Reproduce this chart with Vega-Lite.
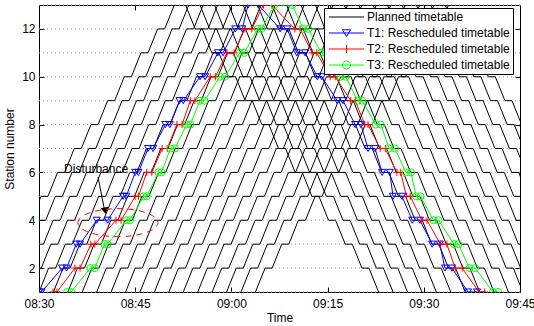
{
  "$schema": "https://vega.github.io/schema/vega-lite/v6.json",
  "width": 481,
  "height": 287,
  "autosize": "none",
  "padding": {"left": 39, "top": 5, "right": 14, "bottom": 34},
  "config": {
    "font": "Liberation Sans",
    "view": {"stroke": "black", "strokeWidth": 1},
    "axis": {"labelFont": "Liberation Sans", "labelFontSize": 12, "labelColor": "black", "titleFont": "Liberation Sans", "titleFontSize": 12, "titleFontWeight": "normal", "titleColor": "black", "domainColor": "black", "tickColor": "black", "grid": false}
  },
  "datasets": {
    "grid": [{"s":1},{"s":2},{"s":3},{"s":4},{"s":5},{"s":6},{"s":7},{"s":8},{"s":9},{"s":10},{"s":11},{"s":12},{"s":13}],
    "plan": [
      {"k":1,"x":-1.2,"y":4},{"k":1,"x":0.3,"y":5},{"k":1,"x":1.4,"y":5},{"k":1,"x":2.9,"y":6},{"k":1,"x":4.0,"y":6},{"k":1,"x":5.5,"y":7},{"k":1,"x":6.6,"y":7},{"k":1,"x":8.1,"y":8},{"k":1,"x":9.2,"y":8},{"k":1,"x":10.7,"y":9},{"k":1,"x":11.8,"y":9},{"k":1,"x":13.3,"y":10},{"k":1,"x":14.4,"y":10},{"k":1,"x":15.9,"y":11},{"k":1,"x":17.0,"y":11},{"k":1,"x":18.5,"y":12},{"k":1,"x":19.6,"y":12},{"k":1,"x":21.1,"y":13},
      {"k":2,"x":-0.05,"y":4},{"k":2,"x":1.05,"y":4},{"k":2,"x":2.55,"y":5},{"k":2,"x":3.65,"y":5},{"k":2,"x":5.15,"y":6},{"k":2,"x":6.25,"y":6},{"k":2,"x":7.75,"y":7},{"k":2,"x":8.85,"y":7},{"k":2,"x":10.35,"y":8},{"k":2,"x":11.45,"y":8},{"k":2,"x":12.95,"y":9},{"k":2,"x":14.05,"y":9},{"k":2,"x":15.55,"y":10},{"k":2,"x":16.65,"y":10},{"k":2,"x":18.15,"y":11},{"k":2,"x":19.25,"y":11},{"k":2,"x":20.75,"y":12},{"k":2,"x":21.85,"y":12},{"k":2,"x":23.35,"y":13},
      {"k":3,"x":-0.4,"y":3},{"k":3,"x":0.7,"y":3},{"k":3,"x":2.2,"y":4},{"k":3,"x":3.3,"y":4},{"k":3,"x":4.8,"y":5},{"k":3,"x":5.9,"y":5},{"k":3,"x":7.4,"y":6},{"k":3,"x":8.5,"y":6},{"k":3,"x":10.0,"y":7},{"k":3,"x":11.1,"y":7},{"k":3,"x":12.6,"y":8},{"k":3,"x":13.7,"y":8},{"k":3,"x":15.2,"y":9},{"k":3,"x":16.3,"y":9},{"k":3,"x":17.8,"y":10},{"k":3,"x":18.9,"y":10},{"k":3,"x":20.4,"y":11},{"k":3,"x":21.5,"y":11},{"k":3,"x":23.0,"y":12},{"k":3,"x":24.1,"y":12},{"k":3,"x":25.6,"y":13},
      {"k":4,"x":-0.75,"y":2},{"k":4,"x":0.35,"y":2},{"k":4,"x":1.85,"y":3},{"k":4,"x":2.95,"y":3},{"k":4,"x":4.45,"y":4},{"k":4,"x":5.55,"y":4},{"k":4,"x":7.05,"y":5},{"k":4,"x":8.15,"y":5},{"k":4,"x":9.65,"y":6},{"k":4,"x":10.75,"y":6},{"k":4,"x":12.25,"y":7},{"k":4,"x":13.35,"y":7},{"k":4,"x":14.85,"y":8},{"k":4,"x":15.95,"y":8},{"k":4,"x":17.45,"y":9},{"k":4,"x":18.55,"y":9},{"k":4,"x":20.05,"y":10},{"k":4,"x":21.15,"y":10},{"k":4,"x":22.65,"y":11},{"k":4,"x":23.75,"y":11},{"k":4,"x":25.25,"y":12},{"k":4,"x":26.35,"y":12},{"k":4,"x":27.85,"y":13},
      {"k":5,"x":0,"y":1},{"k":5,"x":1.5,"y":2},{"k":5,"x":2.6,"y":2},{"k":5,"x":4.1,"y":3},{"k":5,"x":5.2,"y":3},{"k":5,"x":6.7,"y":4},{"k":5,"x":7.8,"y":4},{"k":5,"x":9.3,"y":5},{"k":5,"x":10.4,"y":5},{"k":5,"x":11.9,"y":6},{"k":5,"x":13.0,"y":6},{"k":5,"x":14.5,"y":7},{"k":5,"x":15.6,"y":7},{"k":5,"x":17.1,"y":8},{"k":5,"x":18.2,"y":8},{"k":5,"x":19.7,"y":9},{"k":5,"x":20.8,"y":9},{"k":5,"x":22.3,"y":10},{"k":5,"x":23.4,"y":10},{"k":5,"x":24.9,"y":11},{"k":5,"x":26.0,"y":11},{"k":5,"x":27.5,"y":12},{"k":5,"x":28.6,"y":12},{"k":5,"x":30.1,"y":13},
      {"k":6,"x":2.25,"y":1},{"k":6,"x":3.75,"y":2},{"k":6,"x":4.85,"y":2},{"k":6,"x":6.35,"y":3},{"k":6,"x":7.45,"y":3},{"k":6,"x":8.95,"y":4},{"k":6,"x":10.05,"y":4},{"k":6,"x":11.55,"y":5},{"k":6,"x":12.65,"y":5},{"k":6,"x":14.15,"y":6},{"k":6,"x":15.25,"y":6},{"k":6,"x":16.75,"y":7},{"k":6,"x":17.85,"y":7},{"k":6,"x":19.35,"y":8},{"k":6,"x":20.45,"y":8},{"k":6,"x":21.95,"y":9},{"k":6,"x":23.05,"y":9},{"k":6,"x":24.55,"y":10},{"k":6,"x":25.65,"y":10},{"k":6,"x":27.15,"y":11},{"k":6,"x":28.25,"y":11},{"k":6,"x":29.75,"y":12},{"k":6,"x":30.85,"y":12},{"k":6,"x":32.35,"y":13},
      {"k":7,"x":4.5,"y":1},{"k":7,"x":6.0,"y":2},{"k":7,"x":7.1,"y":2},{"k":7,"x":8.6,"y":3},{"k":7,"x":9.7,"y":3},{"k":7,"x":11.2,"y":4},{"k":7,"x":12.3,"y":4},{"k":7,"x":13.8,"y":5},{"k":7,"x":14.9,"y":5},{"k":7,"x":16.4,"y":6},{"k":7,"x":17.5,"y":6},{"k":7,"x":19.0,"y":7},{"k":7,"x":20.1,"y":7},{"k":7,"x":21.6,"y":8},{"k":7,"x":22.7,"y":8},{"k":7,"x":24.2,"y":9},{"k":7,"x":25.3,"y":9},{"k":7,"x":26.8,"y":10},{"k":7,"x":27.9,"y":10},{"k":7,"x":29.4,"y":11},{"k":7,"x":30.5,"y":11},{"k":7,"x":32.0,"y":12},{"k":7,"x":33.1,"y":12},{"k":7,"x":34.6,"y":13},
      {"k":8,"x":6.75,"y":1},{"k":8,"x":8.25,"y":2},{"k":8,"x":9.35,"y":2},{"k":8,"x":10.85,"y":3},{"k":8,"x":11.95,"y":3},{"k":8,"x":13.45,"y":4},{"k":8,"x":14.55,"y":4},{"k":8,"x":16.05,"y":5},{"k":8,"x":17.15,"y":5},{"k":8,"x":18.65,"y":6},{"k":8,"x":19.75,"y":6},{"k":8,"x":21.25,"y":7},{"k":8,"x":22.35,"y":7},{"k":8,"x":23.85,"y":8},{"k":8,"x":24.95,"y":8},{"k":8,"x":26.45,"y":9},{"k":8,"x":27.55,"y":9},{"k":8,"x":29.05,"y":10},{"k":8,"x":30.15,"y":10},{"k":8,"x":31.65,"y":11},{"k":8,"x":32.75,"y":11},{"k":8,"x":34.25,"y":12},{"k":8,"x":35.35,"y":12},{"k":8,"x":36.85,"y":13},
      {"k":9,"x":9,"y":1},{"k":9,"x":10.5,"y":2},{"k":9,"x":11.6,"y":2},{"k":9,"x":13.1,"y":3},{"k":9,"x":14.2,"y":3},{"k":9,"x":15.7,"y":4},{"k":9,"x":16.8,"y":4},{"k":9,"x":18.3,"y":5},{"k":9,"x":19.4,"y":5},{"k":9,"x":20.9,"y":6},{"k":9,"x":22.0,"y":6},{"k":9,"x":23.5,"y":7},{"k":9,"x":24.6,"y":7},{"k":9,"x":26.1,"y":8},{"k":9,"x":27.2,"y":8},{"k":9,"x":28.7,"y":9},{"k":9,"x":29.8,"y":9},{"k":9,"x":31.3,"y":10},{"k":9,"x":32.4,"y":10},{"k":9,"x":33.9,"y":11},{"k":9,"x":35.0,"y":11},{"k":9,"x":36.5,"y":12},{"k":9,"x":37.6,"y":12},{"k":9,"x":39.1,"y":13},
      {"k":10,"x":11.25,"y":1},{"k":10,"x":12.75,"y":2},{"k":10,"x":13.85,"y":2},{"k":10,"x":15.35,"y":3},{"k":10,"x":16.45,"y":3},{"k":10,"x":17.95,"y":4},{"k":10,"x":19.05,"y":4},{"k":10,"x":20.55,"y":5},{"k":10,"x":21.65,"y":5},{"k":10,"x":23.15,"y":6},{"k":10,"x":24.25,"y":6},{"k":10,"x":25.75,"y":7},{"k":10,"x":26.85,"y":7},{"k":10,"x":28.35,"y":8},{"k":10,"x":29.45,"y":8},{"k":10,"x":30.95,"y":9},{"k":10,"x":32.05,"y":9},{"k":10,"x":33.55,"y":10},{"k":10,"x":34.65,"y":10},{"k":10,"x":36.15,"y":11},{"k":10,"x":37.25,"y":11},{"k":10,"x":38.75,"y":12},{"k":10,"x":39.85,"y":12},{"k":10,"x":41.35,"y":13},
      {"k":11,"x":13.5,"y":1},{"k":11,"x":15.0,"y":2},{"k":11,"x":16.1,"y":2},{"k":11,"x":17.6,"y":3},{"k":11,"x":18.7,"y":3},{"k":11,"x":20.2,"y":4},{"k":11,"x":21.3,"y":4},{"k":11,"x":22.8,"y":5},{"k":11,"x":23.9,"y":5},{"k":11,"x":25.4,"y":6},{"k":11,"x":26.5,"y":6},{"k":11,"x":28.0,"y":7},{"k":11,"x":29.1,"y":7},{"k":11,"x":30.6,"y":8},{"k":11,"x":31.7,"y":8},{"k":11,"x":33.2,"y":9},{"k":11,"x":34.3,"y":9},{"k":11,"x":35.8,"y":10},{"k":11,"x":36.9,"y":10},{"k":11,"x":38.4,"y":11},{"k":11,"x":39.5,"y":11},{"k":11,"x":41.0,"y":12},{"k":11,"x":42.1,"y":12},{"k":11,"x":43.6,"y":13},
      {"k":12,"x":15.75,"y":1},{"k":12,"x":17.25,"y":2},{"k":12,"x":18.35,"y":2},{"k":12,"x":19.85,"y":3},{"k":12,"x":20.95,"y":3},{"k":12,"x":22.45,"y":4},{"k":12,"x":23.55,"y":4},{"k":12,"x":25.05,"y":5},{"k":12,"x":26.15,"y":5},{"k":12,"x":27.65,"y":6},{"k":12,"x":28.75,"y":6},{"k":12,"x":30.25,"y":7},{"k":12,"x":31.35,"y":7},{"k":12,"x":32.85,"y":8},{"k":12,"x":33.95,"y":8},{"k":12,"x":35.45,"y":9},{"k":12,"x":36.55,"y":9},{"k":12,"x":38.05,"y":10},{"k":12,"x":39.15,"y":10},{"k":12,"x":40.65,"y":11},{"k":12,"x":41.75,"y":11},{"k":12,"x":43.25,"y":12},{"k":12,"x":44.35,"y":12},{"k":12,"x":45.85,"y":13},
      {"k":13,"x":18,"y":1},{"k":13,"x":19.5,"y":2},{"k":13,"x":20.6,"y":2},{"k":13,"x":22.1,"y":3},{"k":13,"x":23.2,"y":3},{"k":13,"x":24.7,"y":4},{"k":13,"x":25.8,"y":4},{"k":13,"x":27.3,"y":5},{"k":13,"x":28.4,"y":5},{"k":13,"x":29.9,"y":6},{"k":13,"x":31.0,"y":6},{"k":13,"x":32.5,"y":7},{"k":13,"x":33.6,"y":7},{"k":13,"x":35.1,"y":8},{"k":13,"x":36.2,"y":8},{"k":13,"x":37.7,"y":9},{"k":13,"x":38.8,"y":9},{"k":13,"x":40.3,"y":10},{"k":13,"x":41.4,"y":10},{"k":13,"x":42.9,"y":11},{"k":13,"x":44.0,"y":11},{"k":13,"x":45.5,"y":12},{"k":13,"x":46.6,"y":12},{"k":13,"x":48.1,"y":13},
      {"k":14,"x":20.25,"y":1},{"k":14,"x":21.75,"y":2},{"k":14,"x":22.85,"y":2},{"k":14,"x":24.35,"y":3},{"k":14,"x":25.45,"y":3},{"k":14,"x":26.95,"y":4},{"k":14,"x":28.05,"y":4},{"k":14,"x":29.55,"y":5},{"k":14,"x":30.65,"y":5},{"k":14,"x":32.15,"y":6},{"k":14,"x":33.25,"y":6},{"k":14,"x":34.75,"y":7},{"k":14,"x":35.85,"y":7},{"k":14,"x":37.35,"y":8},{"k":14,"x":38.45,"y":8},{"k":14,"x":39.95,"y":9},{"k":14,"x":41.05,"y":9},{"k":14,"x":42.55,"y":10},{"k":14,"x":43.65,"y":10},{"k":14,"x":45.15,"y":11},{"k":14,"x":46.25,"y":11},{"k":14,"x":47.75,"y":12},{"k":14,"x":48.85,"y":12},{"k":14,"x":50.35,"y":13},
      {"k":15,"x":22.5,"y":1},{"k":15,"x":24.0,"y":2},{"k":15,"x":25.1,"y":2},{"k":15,"x":26.6,"y":3},{"k":15,"x":27.7,"y":3},{"k":15,"x":29.2,"y":4},{"k":15,"x":30.3,"y":4},{"k":15,"x":31.8,"y":5},{"k":15,"x":32.9,"y":5},{"k":15,"x":34.4,"y":6},{"k":15,"x":35.5,"y":6},{"k":15,"x":37.0,"y":7},{"k":15,"x":38.1,"y":7},{"k":15,"x":39.6,"y":8},{"k":15,"x":40.7,"y":8},{"k":15,"x":42.2,"y":9},{"k":15,"x":43.3,"y":9},{"k":15,"x":44.8,"y":10},{"k":15,"x":45.9,"y":10},{"k":15,"x":47.4,"y":11},{"k":15,"x":48.5,"y":11},{"k":15,"x":50.0,"y":12},{"k":15,"x":51.1,"y":12},{"k":15,"x":52.6,"y":13},
      {"k":16,"x":24.75,"y":1},{"k":16,"x":26.25,"y":2},{"k":16,"x":27.35,"y":2},{"k":16,"x":28.85,"y":3},{"k":16,"x":29.95,"y":3},{"k":16,"x":31.45,"y":4},{"k":16,"x":32.55,"y":4},{"k":16,"x":34.05,"y":5},{"k":16,"x":35.15,"y":5},{"k":16,"x":36.65,"y":6},{"k":16,"x":37.75,"y":6},{"k":16,"x":39.25,"y":7},{"k":16,"x":40.35,"y":7},{"k":16,"x":41.85,"y":8},{"k":16,"x":42.95,"y":8},{"k":16,"x":44.45,"y":9},{"k":16,"x":45.55,"y":9},{"k":16,"x":47.05,"y":10},{"k":16,"x":48.15,"y":10},{"k":16,"x":49.65,"y":11},{"k":16,"x":50.75,"y":11},{"k":16,"x":52.25,"y":12},{"k":16,"x":53.35,"y":12},{"k":16,"x":54.85,"y":13},
      {"k":17,"x":27,"y":1},{"k":17,"x":28.5,"y":2},{"k":17,"x":29.6,"y":2},{"k":17,"x":31.1,"y":3},{"k":17,"x":32.2,"y":3},{"k":17,"x":33.7,"y":4},{"k":17,"x":34.8,"y":4},{"k":17,"x":36.3,"y":5},{"k":17,"x":37.4,"y":5},{"k":17,"x":38.9,"y":6},{"k":17,"x":40.0,"y":6},{"k":17,"x":41.5,"y":7},{"k":17,"x":42.6,"y":7},{"k":17,"x":44.1,"y":8},{"k":17,"x":45.2,"y":8},{"k":17,"x":46.7,"y":9},{"k":17,"x":47.8,"y":9},{"k":17,"x":49.3,"y":10},{"k":17,"x":50.4,"y":10},{"k":17,"x":51.9,"y":11},{"k":17,"x":53.0,"y":11},{"k":17,"x":54.5,"y":12},{"k":17,"x":55.6,"y":12},{"k":17,"x":57.1,"y":13},
      {"k":18,"x":29.25,"y":1},{"k":18,"x":30.75,"y":2},{"k":18,"x":31.85,"y":2},{"k":18,"x":33.35,"y":3},{"k":18,"x":34.45,"y":3},{"k":18,"x":35.95,"y":4},{"k":18,"x":37.05,"y":4},{"k":18,"x":38.55,"y":5},{"k":18,"x":39.65,"y":5},{"k":18,"x":41.15,"y":6},{"k":18,"x":42.25,"y":6},{"k":18,"x":43.75,"y":7},{"k":18,"x":44.85,"y":7},{"k":18,"x":46.35,"y":8},{"k":18,"x":47.45,"y":8},{"k":18,"x":48.95,"y":9},{"k":18,"x":50.05,"y":9},{"k":18,"x":51.55,"y":10},{"k":18,"x":52.65,"y":10},{"k":18,"x":54.15,"y":11},{"k":18,"x":55.25,"y":11},{"k":18,"x":56.75,"y":12},{"k":18,"x":57.85,"y":12},{"k":18,"x":59.35,"y":13},
      {"k":19,"x":31.5,"y":1},{"k":19,"x":33.0,"y":2},{"k":19,"x":34.1,"y":2},{"k":19,"x":35.6,"y":3},{"k":19,"x":36.7,"y":3},{"k":19,"x":38.2,"y":4},{"k":19,"x":39.3,"y":4},{"k":19,"x":40.8,"y":5},{"k":19,"x":41.9,"y":5},{"k":19,"x":43.4,"y":6},{"k":19,"x":44.5,"y":6},{"k":19,"x":46.0,"y":7},{"k":19,"x":47.1,"y":7},{"k":19,"x":48.6,"y":8},{"k":19,"x":49.7,"y":8},{"k":19,"x":51.2,"y":9},{"k":19,"x":52.3,"y":9},{"k":19,"x":53.8,"y":10},{"k":19,"x":54.9,"y":10},{"k":19,"x":56.4,"y":11},{"k":19,"x":57.5,"y":11},{"k":19,"x":59.0,"y":12},{"k":19,"x":60.1,"y":12},{"k":19,"x":61.6,"y":13},
      {"k":20,"x":33.75,"y":1},{"k":20,"x":35.25,"y":2},{"k":20,"x":36.35,"y":2},{"k":20,"x":37.85,"y":3},{"k":20,"x":38.95,"y":3},{"k":20,"x":40.45,"y":4},{"k":20,"x":41.55,"y":4},{"k":20,"x":43.05,"y":5},{"k":20,"x":44.15,"y":5},{"k":20,"x":45.65,"y":6},{"k":20,"x":46.75,"y":6},{"k":20,"x":48.25,"y":7},{"k":20,"x":49.35,"y":7},{"k":20,"x":50.85,"y":8},{"k":20,"x":51.95,"y":8},{"k":20,"x":53.45,"y":9},{"k":20,"x":54.55,"y":9},{"k":20,"x":56.05,"y":10},{"k":20,"x":57.15,"y":10},{"k":20,"x":58.65,"y":11},{"k":20,"x":59.75,"y":11},{"k":20,"x":61.25,"y":12},{"k":20,"x":62.35,"y":12},{"k":20,"x":63.85,"y":13},
      {"k":21,"x":22.85,"y":13},{"k":21,"x":24.35,"y":12},{"k":21,"x":25.45,"y":12},{"k":21,"x":26.95,"y":11},{"k":21,"x":28.05,"y":11},{"k":21,"x":29.55,"y":10},{"k":21,"x":30.65,"y":10},{"k":21,"x":32.15,"y":9},{"k":21,"x":33.25,"y":9},{"k":21,"x":34.75,"y":8},{"k":21,"x":35.85,"y":8},{"k":21,"x":37.35,"y":7},{"k":21,"x":38.45,"y":7},{"k":21,"x":39.95,"y":6},{"k":21,"x":41.05,"y":6},{"k":21,"x":42.55,"y":5},{"k":21,"x":43.65,"y":5},{"k":21,"x":45.15,"y":4},{"k":21,"x":46.25,"y":4},{"k":21,"x":47.75,"y":3},{"k":21,"x":48.85,"y":3},{"k":21,"x":50.35,"y":2},{"k":21,"x":51.45,"y":2},{"k":21,"x":52.95,"y":1},
      {"k":22,"x":25.1,"y":13},{"k":22,"x":26.6,"y":12},{"k":22,"x":27.7,"y":12},{"k":22,"x":29.2,"y":11},{"k":22,"x":30.3,"y":11},{"k":22,"x":31.8,"y":10},{"k":22,"x":32.9,"y":10},{"k":22,"x":34.4,"y":9},{"k":22,"x":35.5,"y":9},{"k":22,"x":37.0,"y":8},{"k":22,"x":38.1,"y":8},{"k":22,"x":39.6,"y":7},{"k":22,"x":40.7,"y":7},{"k":22,"x":42.2,"y":6},{"k":22,"x":43.3,"y":6},{"k":22,"x":44.8,"y":5},{"k":22,"x":45.9,"y":5},{"k":22,"x":47.4,"y":4},{"k":22,"x":48.5,"y":4},{"k":22,"x":50.0,"y":3},{"k":22,"x":51.1,"y":3},{"k":22,"x":52.6,"y":2},{"k":22,"x":53.7,"y":2},{"k":22,"x":55.2,"y":1},
      {"k":23,"x":27.35,"y":13},{"k":23,"x":28.85,"y":12},{"k":23,"x":29.95,"y":12},{"k":23,"x":31.45,"y":11},{"k":23,"x":32.55,"y":11},{"k":23,"x":34.05,"y":10},{"k":23,"x":35.15,"y":10},{"k":23,"x":36.65,"y":9},{"k":23,"x":37.75,"y":9},{"k":23,"x":39.25,"y":8},{"k":23,"x":40.35,"y":8},{"k":23,"x":41.85,"y":7},{"k":23,"x":42.95,"y":7},{"k":23,"x":44.45,"y":6},{"k":23,"x":45.55,"y":6},{"k":23,"x":47.05,"y":5},{"k":23,"x":48.15,"y":5},{"k":23,"x":49.65,"y":4},{"k":23,"x":50.75,"y":4},{"k":23,"x":52.25,"y":3},{"k":23,"x":53.35,"y":3},{"k":23,"x":54.85,"y":2},{"k":23,"x":55.95,"y":2},{"k":23,"x":57.45,"y":1},
      {"k":24,"x":29.6,"y":13},{"k":24,"x":31.1,"y":12},{"k":24,"x":32.2,"y":12},{"k":24,"x":33.7,"y":11},{"k":24,"x":34.8,"y":11},{"k":24,"x":36.3,"y":10},{"k":24,"x":37.4,"y":10},{"k":24,"x":38.9,"y":9},{"k":24,"x":40.0,"y":9},{"k":24,"x":41.5,"y":8},{"k":24,"x":42.6,"y":8},{"k":24,"x":44.1,"y":7},{"k":24,"x":45.2,"y":7},{"k":24,"x":46.7,"y":6},{"k":24,"x":47.8,"y":6},{"k":24,"x":49.3,"y":5},{"k":24,"x":50.4,"y":5},{"k":24,"x":51.9,"y":4},{"k":24,"x":53.0,"y":4},{"k":24,"x":54.5,"y":3},{"k":24,"x":55.6,"y":3},{"k":24,"x":57.1,"y":2},{"k":24,"x":58.2,"y":2},{"k":24,"x":59.7,"y":1},
      {"k":25,"x":31.85,"y":13},{"k":25,"x":33.35,"y":12},{"k":25,"x":34.45,"y":12},{"k":25,"x":35.95,"y":11},{"k":25,"x":37.05,"y":11},{"k":25,"x":38.55,"y":10},{"k":25,"x":39.65,"y":10},{"k":25,"x":41.15,"y":9},{"k":25,"x":42.25,"y":9},{"k":25,"x":43.75,"y":8},{"k":25,"x":44.85,"y":8},{"k":25,"x":46.35,"y":7},{"k":25,"x":47.45,"y":7},{"k":25,"x":48.95,"y":6},{"k":25,"x":50.05,"y":6},{"k":25,"x":51.55,"y":5},{"k":25,"x":52.65,"y":5},{"k":25,"x":54.15,"y":4},{"k":25,"x":55.25,"y":4},{"k":25,"x":56.75,"y":3},{"k":25,"x":57.85,"y":3},{"k":25,"x":59.35,"y":2},{"k":25,"x":60.45,"y":2},{"k":25,"x":61.95,"y":1},
      {"k":26,"x":34.1,"y":13},{"k":26,"x":35.6,"y":12},{"k":26,"x":36.7,"y":12},{"k":26,"x":38.2,"y":11},{"k":26,"x":39.3,"y":11},{"k":26,"x":40.8,"y":10},{"k":26,"x":41.9,"y":10},{"k":26,"x":43.4,"y":9},{"k":26,"x":44.5,"y":9},{"k":26,"x":46.0,"y":8},{"k":26,"x":47.1,"y":8},{"k":26,"x":48.6,"y":7},{"k":26,"x":49.7,"y":7},{"k":26,"x":51.2,"y":6},{"k":26,"x":52.3,"y":6},{"k":26,"x":53.8,"y":5},{"k":26,"x":54.9,"y":5},{"k":26,"x":56.4,"y":4},{"k":26,"x":57.5,"y":4},{"k":26,"x":59.0,"y":3},{"k":26,"x":60.1,"y":3},{"k":26,"x":61.6,"y":2},{"k":26,"x":62.7,"y":2},{"k":26,"x":64.2,"y":1},
      {"k":27,"x":36.35,"y":13},{"k":27,"x":37.85,"y":12},{"k":27,"x":38.95,"y":12},{"k":27,"x":40.45,"y":11},{"k":27,"x":41.55,"y":11},{"k":27,"x":43.05,"y":10},{"k":27,"x":44.15,"y":10},{"k":27,"x":45.65,"y":9},{"k":27,"x":46.75,"y":9},{"k":27,"x":48.25,"y":8},{"k":27,"x":49.35,"y":8},{"k":27,"x":50.85,"y":7},{"k":27,"x":51.95,"y":7},{"k":27,"x":53.45,"y":6},{"k":27,"x":54.55,"y":6},{"k":27,"x":56.05,"y":5},{"k":27,"x":57.15,"y":5},{"k":27,"x":58.65,"y":4},{"k":27,"x":59.75,"y":4},{"k":27,"x":61.25,"y":3},{"k":27,"x":62.35,"y":3},{"k":27,"x":63.85,"y":2},{"k":27,"x":64.95,"y":2},{"k":27,"x":66.45,"y":1},
      {"k":28,"x":38.6,"y":13},{"k":28,"x":40.1,"y":12},{"k":28,"x":41.2,"y":12},{"k":28,"x":42.7,"y":11},{"k":28,"x":43.8,"y":11},{"k":28,"x":45.3,"y":10},{"k":28,"x":46.4,"y":10},{"k":28,"x":47.9,"y":9},{"k":28,"x":49.0,"y":9},{"k":28,"x":50.5,"y":8},{"k":28,"x":51.6,"y":8},{"k":28,"x":53.1,"y":7},{"k":28,"x":54.2,"y":7},{"k":28,"x":55.7,"y":6},{"k":28,"x":56.8,"y":6},{"k":28,"x":58.3,"y":5},{"k":28,"x":59.4,"y":5},{"k":28,"x":60.9,"y":4},{"k":28,"x":62.0,"y":4},{"k":28,"x":63.5,"y":3},{"k":28,"x":64.6,"y":3},{"k":28,"x":66.1,"y":2},{"k":28,"x":67.2,"y":2},{"k":28,"x":68.7,"y":1},
      {"k":29,"x":40.85,"y":13},{"k":29,"x":42.35,"y":12},{"k":29,"x":43.45,"y":12},{"k":29,"x":44.95,"y":11},{"k":29,"x":46.05,"y":11},{"k":29,"x":47.55,"y":10},{"k":29,"x":48.65,"y":10},{"k":29,"x":50.15,"y":9},{"k":29,"x":51.25,"y":9},{"k":29,"x":52.75,"y":8},{"k":29,"x":53.85,"y":8},{"k":29,"x":55.35,"y":7},{"k":29,"x":56.45,"y":7},{"k":29,"x":57.95,"y":6},{"k":29,"x":59.05,"y":6},{"k":29,"x":60.55,"y":5},{"k":29,"x":61.65,"y":5},{"k":29,"x":63.15,"y":4},{"k":29,"x":64.25,"y":4},{"k":29,"x":65.75,"y":3},{"k":29,"x":66.85,"y":3},{"k":29,"x":68.35,"y":2},{"k":29,"x":69.45,"y":2},{"k":29,"x":70.95,"y":1},
      {"k":30,"x":43.1,"y":13},{"k":30,"x":44.6,"y":12},{"k":30,"x":45.7,"y":12},{"k":30,"x":47.2,"y":11},{"k":30,"x":48.3,"y":11},{"k":30,"x":49.8,"y":10},{"k":30,"x":50.9,"y":10},{"k":30,"x":52.4,"y":9},{"k":30,"x":53.5,"y":9},{"k":30,"x":55.0,"y":8},{"k":30,"x":56.1,"y":8},{"k":30,"x":57.6,"y":7},{"k":30,"x":58.7,"y":7},{"k":30,"x":60.2,"y":6},{"k":30,"x":61.3,"y":6},{"k":30,"x":62.8,"y":5},{"k":30,"x":63.9,"y":5},{"k":30,"x":65.4,"y":4},{"k":30,"x":66.5,"y":4},{"k":30,"x":68.0,"y":3},{"k":30,"x":69.1,"y":3},{"k":30,"x":70.6,"y":2},{"k":30,"x":71.7,"y":2},{"k":30,"x":73.2,"y":1},
      {"k":31,"x":45.35,"y":13},{"k":31,"x":46.85,"y":12},{"k":31,"x":47.95,"y":12},{"k":31,"x":49.45,"y":11},{"k":31,"x":50.55,"y":11},{"k":31,"x":52.05,"y":10},{"k":31,"x":53.15,"y":10},{"k":31,"x":54.65,"y":9},{"k":31,"x":55.75,"y":9},{"k":31,"x":57.25,"y":8},{"k":31,"x":58.35,"y":8},{"k":31,"x":59.85,"y":7},{"k":31,"x":60.95,"y":7},{"k":31,"x":62.45,"y":6},{"k":31,"x":63.55,"y":6},{"k":31,"x":65.05,"y":5},{"k":31,"x":66.15,"y":5},{"k":31,"x":67.65,"y":4},{"k":31,"x":68.75,"y":4},{"k":31,"x":70.25,"y":3},{"k":31,"x":71.35,"y":3},{"k":31,"x":72.85,"y":2},{"k":31,"x":73.95,"y":2},{"k":31,"x":75.45,"y":1},
      {"k":32,"x":47.6,"y":13},{"k":32,"x":49.1,"y":12},{"k":32,"x":50.2,"y":12},{"k":32,"x":51.7,"y":11},{"k":32,"x":52.8,"y":11},{"k":32,"x":54.3,"y":10},{"k":32,"x":55.4,"y":10},{"k":32,"x":56.9,"y":9},{"k":32,"x":58.0,"y":9},{"k":32,"x":59.5,"y":8},{"k":32,"x":60.6,"y":8},{"k":32,"x":62.1,"y":7},{"k":32,"x":63.2,"y":7},{"k":32,"x":64.7,"y":6},{"k":32,"x":65.8,"y":6},{"k":32,"x":67.3,"y":5},{"k":32,"x":68.4,"y":5},{"k":32,"x":69.9,"y":4},{"k":32,"x":71.0,"y":4},{"k":32,"x":72.5,"y":3},{"k":32,"x":73.6,"y":3},{"k":32,"x":75.1,"y":2},
      {"k":33,"x":49.85,"y":13},{"k":33,"x":51.35,"y":12},{"k":33,"x":52.45,"y":12},{"k":33,"x":53.95,"y":11},{"k":33,"x":55.05,"y":11},{"k":33,"x":56.55,"y":10},{"k":33,"x":57.65,"y":10},{"k":33,"x":59.15,"y":9},{"k":33,"x":60.25,"y":9},{"k":33,"x":61.75,"y":8},{"k":33,"x":62.85,"y":8},{"k":33,"x":64.35,"y":7},{"k":33,"x":65.45,"y":7},{"k":33,"x":66.95,"y":6},{"k":33,"x":68.05,"y":6},{"k":33,"x":69.55,"y":5},{"k":33,"x":70.65,"y":5},{"k":33,"x":72.15,"y":4},{"k":33,"x":73.25,"y":4},{"k":33,"x":74.75,"y":3},{"k":33,"x":75.85,"y":3},
      {"k":34,"x":52.1,"y":13},{"k":34,"x":53.6,"y":12},{"k":34,"x":54.7,"y":12},{"k":34,"x":56.2,"y":11},{"k":34,"x":57.3,"y":11},{"k":34,"x":58.8,"y":10},{"k":34,"x":59.9,"y":10},{"k":34,"x":61.4,"y":9},{"k":34,"x":62.5,"y":9},{"k":34,"x":64.0,"y":8},{"k":34,"x":65.1,"y":8},{"k":34,"x":66.6,"y":7},{"k":34,"x":67.7,"y":7},{"k":34,"x":69.2,"y":6},{"k":34,"x":70.3,"y":6},{"k":34,"x":71.8,"y":5},{"k":34,"x":72.9,"y":5},{"k":34,"x":74.4,"y":4},{"k":34,"x":75.5,"y":4},
      {"k":35,"x":54.35,"y":13},{"k":35,"x":55.85,"y":12},{"k":35,"x":56.95,"y":12},{"k":35,"x":58.45,"y":11},{"k":35,"x":59.55,"y":11},{"k":35,"x":61.05,"y":10},{"k":35,"x":62.15,"y":10},{"k":35,"x":63.65,"y":9},{"k":35,"x":64.75,"y":9},{"k":35,"x":66.25,"y":8},{"k":35,"x":67.35,"y":8},{"k":35,"x":68.85,"y":7},{"k":35,"x":69.95,"y":7},{"k":35,"x":71.45,"y":6},{"k":35,"x":72.55,"y":6},{"k":35,"x":74.05,"y":5},{"k":35,"x":75.15,"y":5},
      {"k":36,"x":56.6,"y":13},{"k":36,"x":58.1,"y":12},{"k":36,"x":59.2,"y":12},{"k":36,"x":60.7,"y":11},{"k":36,"x":61.8,"y":11},{"k":36,"x":63.3,"y":10},{"k":36,"x":64.4,"y":10},{"k":36,"x":65.9,"y":9},{"k":36,"x":67.0,"y":9},{"k":36,"x":68.5,"y":8},{"k":36,"x":69.6,"y":8},{"k":36,"x":71.1,"y":7},{"k":36,"x":72.2,"y":7},{"k":36,"x":73.7,"y":6},{"k":36,"x":74.8,"y":6},{"k":36,"x":76.3,"y":5},
      {"k":37,"x":58.85,"y":13},{"k":37,"x":60.35,"y":12},{"k":37,"x":61.45,"y":12},{"k":37,"x":62.95,"y":11},{"k":37,"x":64.05,"y":11},{"k":37,"x":65.55,"y":10},{"k":37,"x":66.65,"y":10},{"k":37,"x":68.15,"y":9},{"k":37,"x":69.25,"y":9},{"k":37,"x":70.75,"y":8},{"k":37,"x":71.85,"y":8},{"k":37,"x":73.35,"y":7},{"k":37,"x":74.45,"y":7},{"k":37,"x":75.95,"y":6},
      {"k":38,"x":61.1,"y":13},{"k":38,"x":62.6,"y":12},{"k":38,"x":63.7,"y":12},{"k":38,"x":65.2,"y":11},{"k":38,"x":66.3,"y":11},{"k":38,"x":67.8,"y":10},{"k":38,"x":68.9,"y":10},{"k":38,"x":70.4,"y":9},{"k":38,"x":71.5,"y":9},{"k":38,"x":73.0,"y":8},{"k":38,"x":74.1,"y":8},{"k":38,"x":75.6,"y":7},
      {"k":39,"x":63.35,"y":13},{"k":39,"x":64.85,"y":12},{"k":39,"x":65.95,"y":12},{"k":39,"x":67.45,"y":11},{"k":39,"x":68.55,"y":11},{"k":39,"x":70.05,"y":10},{"k":39,"x":71.15,"y":10},{"k":39,"x":72.65,"y":9},{"k":39,"x":73.75,"y":9},{"k":39,"x":75.25,"y":8}
    ],
    "res": [
      {"g":"T1: Rescheduled timetable","x":0,"y":1},{"g":"T1: Rescheduled timetable","x":0.4,"y":1},{"g":"T1: Rescheduled timetable","x":3.6,"y":2},{"g":"T1: Rescheduled timetable","x":4.3,"y":2},{"g":"T1: Rescheduled timetable","x":5.8,"y":3},{"g":"T1: Rescheduled timetable","x":6.4,"y":3},{"g":"T1: Rescheduled timetable","x":9.0,"y":4},{"g":"T1: Rescheduled timetable","x":10.7,"y":4},{"g":"T1: Rescheduled timetable","x":13.1,"y":5},{"g":"T1: Rescheduled timetable","x":13.6,"y":5},{"g":"T1: Rescheduled timetable","x":15.0,"y":6},{"g":"T1: Rescheduled timetable","x":15.5,"y":6},{"g":"T1: Rescheduled timetable","x":17.0,"y":7},{"g":"T1: Rescheduled timetable","x":17.8,"y":7},{"g":"T1: Rescheduled timetable","x":19.7,"y":8},{"g":"T1: Rescheduled timetable","x":20.4,"y":8},{"g":"T1: Rescheduled timetable","x":21.9,"y":9},{"g":"T1: Rescheduled timetable","x":22.5,"y":9},{"g":"T1: Rescheduled timetable","x":25.1,"y":10},{"g":"T1: Rescheduled timetable","x":25.9,"y":10},{"g":"T1: Rescheduled timetable","x":27.9,"y":11},{"g":"T1: Rescheduled timetable","x":28.7,"y":11},{"g":"T1: Rescheduled timetable","x":30.6,"y":12},{"g":"T1: Rescheduled timetable","x":31.7,"y":12},{"g":"T1: Rescheduled timetable","x":32.6,"y":13},{"g":"T1: Rescheduled timetable","x":34.2,"y":13},{"g":"T1: Rescheduled timetable","x":37.6,"y":12},{"g":"T1: Rescheduled timetable","x":38.7,"y":12},{"g":"T1: Rescheduled timetable","x":40.2,"y":11},{"g":"T1: Rescheduled timetable","x":41.5,"y":11},{"g":"T1: Rescheduled timetable","x":43.4,"y":10},{"g":"T1: Rescheduled timetable","x":44.1,"y":10},{"g":"T1: Rescheduled timetable","x":46.5,"y":9},{"g":"T1: Rescheduled timetable","x":47.4,"y":9},{"g":"T1: Rescheduled timetable","x":49.3,"y":8},{"g":"T1: Rescheduled timetable","x":50.2,"y":8},{"g":"T1: Rescheduled timetable","x":51.3,"y":7},{"g":"T1: Rescheduled timetable","x":52.4,"y":7},{"g":"T1: Rescheduled timetable","x":53.5,"y":6},{"g":"T1: Rescheduled timetable","x":54.7,"y":6},{"g":"T1: Rescheduled timetable","x":55.2,"y":5},{"g":"T1: Rescheduled timetable","x":56.6,"y":5},{"g":"T1: Rescheduled timetable","x":58.2,"y":4},{"g":"T1: Rescheduled timetable","x":59.4,"y":4},{"g":"T1: Rescheduled timetable","x":61.3,"y":3},{"g":"T1: Rescheduled timetable","x":62.5,"y":3},{"g":"T1: Rescheduled timetable","x":63.3,"y":2},{"g":"T1: Rescheduled timetable","x":64.4,"y":2},{"g":"T1: Rescheduled timetable","x":66.9,"y":1},{"g":"T1: Rescheduled timetable","x":68.3,"y":1},
      {"g":"T2: Rescheduled timetable","x":2.2,"y":1},{"g":"T2: Rescheduled timetable","x":2.8,"y":1},{"g":"T2: Rescheduled timetable","x":5.6,"y":2},{"g":"T2: Rescheduled timetable","x":6.4,"y":2},{"g":"T2: Rescheduled timetable","x":8.1,"y":3},{"g":"T2: Rescheduled timetable","x":8.7,"y":3},{"g":"T2: Rescheduled timetable","x":12.0,"y":4},{"g":"T2: Rescheduled timetable","x":12.8,"y":4},{"g":"T2: Rescheduled timetable","x":15.0,"y":5},{"g":"T2: Rescheduled timetable","x":15.5,"y":5},{"g":"T2: Rescheduled timetable","x":16.8,"y":6},{"g":"T2: Rescheduled timetable","x":17.6,"y":6},{"g":"T2: Rescheduled timetable","x":19.2,"y":7},{"g":"T2: Rescheduled timetable","x":20.0,"y":7},{"g":"T2: Rescheduled timetable","x":21.5,"y":8},{"g":"T2: Rescheduled timetable","x":22.3,"y":8},{"g":"T2: Rescheduled timetable","x":23.6,"y":9},{"g":"T2: Rescheduled timetable","x":24.3,"y":9},{"g":"T2: Rescheduled timetable","x":26.7,"y":10},{"g":"T2: Rescheduled timetable","x":27.5,"y":10},{"g":"T2: Rescheduled timetable","x":29.3,"y":11},{"g":"T2: Rescheduled timetable","x":30.4,"y":11},{"g":"T2: Rescheduled timetable","x":32.1,"y":12},{"g":"T2: Rescheduled timetable","x":33.2,"y":12},{"g":"T2: Rescheduled timetable","x":35.0,"y":13},{"g":"T2: Rescheduled timetable","x":36.3,"y":13},{"g":"T2: Rescheduled timetable","x":39.9,"y":12},{"g":"T2: Rescheduled timetable","x":40.7,"y":12},{"g":"T2: Rescheduled timetable","x":42.6,"y":11},{"g":"T2: Rescheduled timetable","x":43.3,"y":11},{"g":"T2: Rescheduled timetable","x":45.4,"y":10},{"g":"T2: Rescheduled timetable","x":46.2,"y":10},{"g":"T2: Rescheduled timetable","x":48.6,"y":9},{"g":"T2: Rescheduled timetable","x":49.3,"y":9},{"g":"T2: Rescheduled timetable","x":50.8,"y":8},{"g":"T2: Rescheduled timetable","x":51.3,"y":8},{"g":"T2: Rescheduled timetable","x":53.2,"y":7},{"g":"T2: Rescheduled timetable","x":54.0,"y":7},{"g":"T2: Rescheduled timetable","x":55.8,"y":6},{"g":"T2: Rescheduled timetable","x":56.4,"y":6},{"g":"T2: Rescheduled timetable","x":57.3,"y":5},{"g":"T2: Rescheduled timetable","x":57.9,"y":5},{"g":"T2: Rescheduled timetable","x":59.7,"y":4},{"g":"T2: Rescheduled timetable","x":60.5,"y":4},{"g":"T2: Rescheduled timetable","x":62.6,"y":3},{"g":"T2: Rescheduled timetable","x":63.6,"y":3},{"g":"T2: Rescheduled timetable","x":64.9,"y":2},{"g":"T2: Rescheduled timetable","x":66.0,"y":2},{"g":"T2: Rescheduled timetable","x":68.6,"y":1},{"g":"T2: Rescheduled timetable","x":69.5,"y":1},
      {"g":"T3: Rescheduled timetable","x":4.4,"y":1},{"g":"T3: Rescheduled timetable","x":5.0,"y":1},{"g":"T3: Rescheduled timetable","x":8.0,"y":2},{"g":"T3: Rescheduled timetable","x":8.7,"y":2},{"g":"T3: Rescheduled timetable","x":10.2,"y":3},{"g":"T3: Rescheduled timetable","x":10.7,"y":3},{"g":"T3: Rescheduled timetable","x":13.6,"y":4},{"g":"T3: Rescheduled timetable","x":14.2,"y":4},{"g":"T3: Rescheduled timetable","x":16.3,"y":5},{"g":"T3: Rescheduled timetable","x":16.8,"y":5},{"g":"T3: Rescheduled timetable","x":18.6,"y":6},{"g":"T3: Rescheduled timetable","x":19.1,"y":6},{"g":"T3: Rescheduled timetable","x":20.5,"y":7},{"g":"T3: Rescheduled timetable","x":21.2,"y":7},{"g":"T3: Rescheduled timetable","x":23.0,"y":8},{"g":"T3: Rescheduled timetable","x":23.6,"y":8},{"g":"T3: Rescheduled timetable","x":25.1,"y":9},{"g":"T3: Rescheduled timetable","x":25.8,"y":9},{"g":"T3: Rescheduled timetable","x":28.2,"y":10},{"g":"T3: Rescheduled timetable","x":29.0,"y":10},{"g":"T3: Rescheduled timetable","x":31.3,"y":11},{"g":"T3: Rescheduled timetable","x":32.0,"y":11},{"g":"T3: Rescheduled timetable","x":34.1,"y":12},{"g":"T3: Rescheduled timetable","x":34.7,"y":12},{"g":"T3: Rescheduled timetable","x":36.7,"y":13},{"g":"T3: Rescheduled timetable","x":39.5,"y":13},{"g":"T3: Rescheduled timetable","x":41.2,"y":12},{"g":"T3: Rescheduled timetable","x":42.0,"y":12},{"g":"T3: Rescheduled timetable","x":44.0,"y":11},{"g":"T3: Rescheduled timetable","x":44.7,"y":11},{"g":"T3: Rescheduled timetable","x":47.0,"y":10},{"g":"T3: Rescheduled timetable","x":47.8,"y":10},{"g":"T3: Rescheduled timetable","x":49.7,"y":9},{"g":"T3: Rescheduled timetable","x":50.4,"y":9},{"g":"T3: Rescheduled timetable","x":52.5,"y":8},{"g":"T3: Rescheduled timetable","x":53.3,"y":8},{"g":"T3: Rescheduled timetable","x":54.6,"y":7},{"g":"T3: Rescheduled timetable","x":55.5,"y":7},{"g":"T3: Rescheduled timetable","x":57.2,"y":6},{"g":"T3: Rescheduled timetable","x":58.0,"y":6},{"g":"T3: Rescheduled timetable","x":58.8,"y":5},{"g":"T3: Rescheduled timetable","x":59.5,"y":5},{"g":"T3: Rescheduled timetable","x":61.5,"y":4},{"g":"T3: Rescheduled timetable","x":62.3,"y":4},{"g":"T3: Rescheduled timetable","x":64.7,"y":3},{"g":"T3: Rescheduled timetable","x":65.4,"y":3},{"g":"T3: Rescheduled timetable","x":67.1,"y":2},{"g":"T3: Rescheduled timetable","x":68.0,"y":2},{"g":"T3: Rescheduled timetable","x":70.8,"y":1},{"g":"T3: Rescheduled timetable","x":71.6,"y":1}
    ],
    "ann": [{"x": 8.9, "y": 6.15, "t": "Disturbance"}],
    "arrow": [{"x": 9.2, "y": 5.81}, {"x": 10.2, "y": 4.45}],
    "head": [{"x": 10.3, "y": 4.4}],
    "ell": [{"x": 12.3, "y": 3.9}]
  },
  "layer": [
    {
      "data": {"name": "grid"},
      "mark": {"type": "rule", "strokeDash": [1, 3], "color": "#a0a0a0", "strokeWidth": 1},
      "encoding": {
        "y": {"field": "s", "type": "quantitative", "scale": {"domain": [1, 13], "nice": false, "zero": false},
          "axis": {"orient": "left", "values": [2, 4, 6, 8, 10, 12], "tickSize": -5, "labelPadding": 9, "title": "Station number", "titlePadding": 5, "domain": false}}
      }
    },
    {
      "data": {"name": "plan"},
      "mark": {"type": "line", "strokeWidth": 1, "clip": true},
      "encoding": {
        "x": {"field": "x", "type": "quantitative", "scale": {"domain": [0, 75], "nice": false, "zero": false},
          "axis": {"orient": "bottom", "values": [0, 15, 30, 45, 60, 75], "labelExpr": "['08:30','08:45','09:00','09:15','09:30','09:45'][round(datum.value/15)]", "tickSize": -5, "labelPadding": 11, "title": "Time", "titlePadding": 3, "domain": false, "labelFlush": false, "labelOverlap": false, "labelBound": false}},
        "y": {"field": "y", "type": "quantitative", "axis": {"orient": "right", "values": [2, 4, 6, 8, 10, 12], "labels": false, "tickSize": -5, "title": null, "domain": false}},
        "detail": {"field": "k"},
        "color": {"datum": "Planned timetable", "type": "nominal"}
      }
    },
    {
      "data": {"name": "res"},
      "mark": {"type": "line", "strokeWidth": 1, "clip": true},
      "encoding": {
        "x": {"field": "x", "type": "quantitative", "axis": {"orient": "top", "values": [15, 30, 45, 60], "labels": false, "tickSize": -5, "title": null, "domain": false}},
        "y": {"field": "y", "type": "quantitative", "axis": null},
        "color": {"field": "g", "type": "nominal",
          "scale": {"domain": ["Planned timetable", "T1: Rescheduled timetable", "T2: Rescheduled timetable", "T3: Rescheduled timetable"], "range": ["#000000", "#0000ff", "#ff0000", "#00ff00"]},
          "legend": {"orient": "none", "legendX": 285, "legendY": 3, "title": null, "fillColor": "white", "strokeColor": "black", "padding": 3, "labelFontSize": 12, "labelFont": "Liberation Sans", "labelColor": "black", "symbolSize": 64, "symbolStrokeWidth": 1, "symbolFillColor": "transparent", "labelOffset": 28, "rowPadding": 4,
            "encode": {"symbols": {"update": {"shape": {"signal": "datum.value === 'T1: Rescheduled timetable' ? 'M-1,0H7.75M2.375,-0.8H4.375L3.375,0.9Z' : datum.value === 'T2: Rescheduled timetable' ? 'M-1,0H7.75M3.375,-1V1' : datum.value === 'T3: Rescheduled timetable' ? 'M-1,0H7.75M4.375,0A1,1,0,1,1,2.375,0A1,1,0,1,1,4.375,0' : 'M-1,0H7.75'"}}}}}
        }
      }
    },
    {
      "data": {"name": "res"},
      "mark": {"type": "point", "filled": false, "strokeWidth": 1, "size": 50, "opacity": 1, "clip": true},
      "encoding": {
        "x": {"field": "x", "type": "quantitative", "axis": null},
        "y": {"field": "y", "type": "quantitative", "axis": null},
        "color": {"field": "g", "type": "nominal"},
        "shape": {"field": "g", "type": "nominal", "scale": {"domain": ["T1: Rescheduled timetable", "T2: Rescheduled timetable", "T3: Rescheduled timetable"], "range": ["triangle-down", "M-1,0H1M0,-1V1", "circle"]}, "legend": null}
      }
    },
    {
      "data": {"name": "ann"},
      "mark": {"type": "text", "fontSize": 12, "font": "Liberation Sans", "color": "black"},
      "encoding": {"x": {"field": "x", "type": "quantitative", "axis": null}, "y": {"field": "y", "type": "quantitative", "axis": null}, "text": {"field": "t"}}
    },
    {
      "data": {"name": "arrow"},
      "mark": {"type": "line", "color": "black", "strokeWidth": 1},
      "encoding": {"x": {"field": "x", "type": "quantitative", "axis": null}, "y": {"field": "y", "type": "quantitative", "axis": null}}
    },
    {
      "data": {"name": "head"},
      "mark": {"type": "point", "shape": "triangle-down", "filled": true, "color": "black", "size": 60, "angle": 349, "opacity": 1},
      "encoding": {"x": {"field": "x", "type": "quantitative", "axis": null}, "y": {"field": "y", "type": "quantitative", "axis": null}}
    },
    {
      "data": {"name": "ell"},
      "mark": {"type": "point", "shape": "M-1,0A1,0.35,0,1,1,1,0A1,0.35,0,1,1,-1,0", "filled": false, "color": "#ff0000", "strokeWidth": 1, "strokeDash": [6, 5], "size": 6400, "opacity": 1},
      "encoding": {"x": {"field": "x", "type": "quantitative", "axis": null}, "y": {"field": "y", "type": "quantitative", "axis": null}}
    }
  ],
  "resolve": {"axis": {"x": "independent", "y": "independent"}}
}
